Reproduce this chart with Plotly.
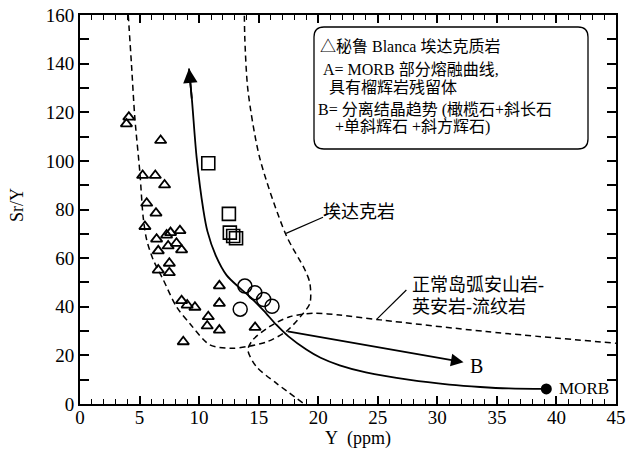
import plotly.graph_objects as go

# ---------------- data ----------------
tri_x = [4.1, 3.9, 6.77, 5.26, 6.32, 7.1, 5.6, 6.38, 5.45, 6.43, 7.27, 7.6, 8.39, 6.57, 7.4,
         8.1, 8.53, 6.57, 7.5, 7.5, 8.53, 9.0, 9.65, 8.67, 10.77, 10.68, 11.7, 11.7, 11.7, 14.7]
tri_y = [118.0, 115.2, 108.4, 94.0, 94.0, 90.1, 82.6, 78.5, 73.0, 67.8, 69.5, 70.5, 71.3, 63.0, 65.0,
         66.1, 63.4, 55.1, 57.9, 54.0, 42.5, 40.7, 39.8, 25.6, 35.9, 32.1, 48.6, 41.4, 30.4, 31.5]

sq_x = [10.77, 12.5, 12.58, 12.86, 13.1]
sq_y = [99.0, 78.2, 70.5, 69.1, 68.2]

circ_x = [13.84, 14.68, 15.42, 16.12, 13.45]
circ_y = [48.5, 45.8, 43.0, 40.2, 39.0]

morb_x = [39.15]
morb_y = [6.2]

# curve A: MORB partial melting (top -> MORB)
curveA_x = [9.15, 9.4, 9.8, 10.35, 10.7, 11.4, 12.3, 13.4, 14.4, 15.4, 16.5, 17.5, 19.0, 20.2,
            21.8, 24.0, 27.7, 31.0, 33.6, 36.0, 39.15]
curveA_y = [138.0, 125.0, 101.0, 80.0, 71.0, 61.0, 53.0, 47.8, 43.5, 38.5, 32.5, 27.8, 22.4, 19.0,
            15.9, 13.0, 9.9, 8.0, 7.0, 6.4, 6.2]

# trend B: fractional crystallisation
trendB_x = [17.3, 32.2]
trendB_y = [30.0, 17.2]

# adakite field boundary
adakite_x = [4.05, 4.33, 4.6, 5.03, 5.3, 5.6, 6.15, 7.0, 8.1, 9.2, 10.9, 12.6, 14.0, 15.7, 17.3,
             18.5, 19.3, 19.3, 18.9, 17.3, 15.1, 14.1, 13.84, 13.8]
adakite_y = [160.0, 139.0, 118.0, 95.0, 77.0, 67.5, 59.3, 51.0, 40.0, 33.2, 24.3, 22.9, 23.6, 25.6,
             29.8, 35.9, 41.4, 49.7, 55.0, 69.5, 101.0, 129.0, 150.0, 160.0]

# normal arc andesite-dacite-rhyolite field boundary
arc_x = [18.7, 16.5, 14.8, 14.1, 14.5, 15.9, 17.6, 19.6, 21.8, 25.2, 34.1, 45.0]
arc_y = [0.5, 8.5, 15.4, 22.2, 26.3, 31.8, 35.9, 37.3, 36.6, 34.6, 29.8, 25.0]

# leader lines of field labels
lead_adakite_x = [17.3, 20.4]
lead_adakite_y = [70.2, 76.8]
lead_arc_x = [24.9, 27.4]
lead_arc_y = [34.8, 46.9]

x_ticks = [0, 5, 10, 15, 20, 25, 30, 35, 40, 45]
y_ticks = [0, 20, 40, 60, 80, 100, 120, 140, 160]

legend_lines = [
    "△秘鲁 Blanca 埃达克质岩",
    "A= MORB 部分熔融曲线,",
    "具有榴辉岩残留体",
    "B= 分离结晶趋势 (橄榄石+斜长石",
    "+单斜辉石 +斜方辉石)",
]

# ---------------- layout helpers ----------------
W, H = 626, 454
L, R, T, B = 80, 10, 15, 50
PW, PH = W - L - R, H - T - B


def px(xp):
    return (xp - L) / PW


def py(yp):
    return (H - B - yp) / PH


SERIF = "Liberation Serif, Noto Sans CJK SC"
CJK = "Liberation Serif, Noto Sans CJK SC"

fig = go.Figure()

dash = "6px,4px"
fig.add_trace(go.Scatter(x=adakite_x, y=adakite_y, mode="lines",
                         line=dict(color="black", width=1.5, dash=dash, shape="spline", smoothing=0.8),
                         hoverinfo="skip"))
fig.add_trace(go.Scatter(x=arc_x, y=arc_y, mode="lines",
                         line=dict(color="black", width=1.5, dash=dash, shape="spline", smoothing=0.8),
                         hoverinfo="skip"))
fig.add_trace(go.Scatter(x=curveA_x, y=curveA_y, mode="lines",
                         line=dict(color="black", width=1.8, shape="spline", smoothing=0.9),
                         hoverinfo="skip"))
fig.add_trace(go.Scatter(x=lead_adakite_x, y=lead_adakite_y, mode="lines",
                         line=dict(color="black", width=1.2), hoverinfo="skip"))
fig.add_trace(go.Scatter(x=lead_arc_x, y=lead_arc_y, mode="lines",
                         line=dict(color="black", width=1.2), hoverinfo="skip"))

fig.add_trace(go.Scatter(x=tri_x, y=tri_y, mode="markers",
                         marker=dict(symbol="triangle-up-open", size=10, color="black",
                                     line=dict(width=1.8, color="black"))))
fig.add_trace(go.Scatter(x=sq_x, y=sq_y, mode="markers",
                         marker=dict(symbol="square-open", size=13, color="black",
                                     line=dict(width=1.6, color="black"))))
fig.add_trace(go.Scatter(x=circ_x, y=circ_y, mode="markers",
                         marker=dict(symbol="circle-open", size=14, color="black",
                                     line=dict(width=1.5, color="black"))))
fig.add_trace(go.Scatter(x=morb_x, y=morb_y, mode="markers",
                         marker=dict(symbol="circle", size=11, color="black")))

annotations = []
# arrow head of curve A
annotations.append(dict(x=curveA_x[0], y=curveA_y[0], ax=curveA_x[1], ay=curveA_y[1],
                        xref="x", yref="y", axref="x", ayref="y", text="", showarrow=True,
                        arrowhead=2, arrowsize=1.6, arrowwidth=1.8, arrowcolor="black", standoff=0))
# trend B arrow
annotations.append(dict(x=trendB_x[1], y=trendB_y[1], ax=trendB_x[0], ay=trendB_y[0],
                        xref="x", yref="y", axref="x", ayref="y", text="", showarrow=True,
                        arrowhead=2, arrowsize=1.4, arrowwidth=1.8, arrowcolor="black", standoff=0))


def label(text, xp, yp, size, xanchor="center", family=SERIF, angle=0):
    annotations.append(dict(x=px(xp), y=py(yp), xref="paper", yref="paper", text=text,
                            showarrow=False, xanchor=xanchor, yanchor="middle", textangle=angle,
                            font=dict(family=family, size=size, color="black")))


label("B", 477, 366, 20)
label("MORB", 557, 388, 17, xanchor="left")
label("埃达克岩", 321, 212, 18, xanchor="left", family=CJK)
label("正常岛弧安山岩-", 410, 285, 18, xanchor="left", family=CJK)
label("英安岩-流纹岩", 410, 307, 18, xanchor="left", family=CJK)

leg_pos = [(318, 46), (321, 70), (327, 87), (316, 110), (333, 127)]
for txt, (lx, ly) in zip(legend_lines, leg_pos):
    label(txt, lx, ly, 16, xanchor="left", family=CJK)

# axis titles
label("Sr/Y", 17, 205, 18, angle=-90)
label("Y\u00a0\u00a0(ppm)", 358, 438, 18)

# rounded legend box
x0, x1 = px(314), px(588)
y0, y1 = py(149), py(27)
rx, ry = 10 / PW, 10 / PH
path = (f"M {x0+rx},{y1} L {x1-rx},{y1} Q {x1},{y1} {x1},{y1-ry} L {x1},{y0+ry} "
        f"Q {x1},{y0} {x1-rx},{y0} L {x0+rx},{y0} Q {x0},{y0} {x0},{y0+ry} "
        f"L {x0},{y1-ry} Q {x0},{y1} {x0+rx},{y1} Z")

fig.update_layout(
    width=W, height=H, margin=dict(l=L, r=R, t=T, b=B, autoexpand=False),
    paper_bgcolor="white", plot_bgcolor="white", showlegend=False,
    annotations=annotations,
    shapes=[dict(type="path", path=path, xref="paper", yref="paper",
                 line=dict(color="black", width=1.3), fillcolor="rgba(0,0,0,0)")],
    xaxis=dict(range=[0, 45], tickvals=x_ticks, ticktext=[str(v) for v in x_ticks],
               ticks="inside", ticklen=8, tickwidth=1.5, tickcolor="black",
               minor=dict(dtick=1, ticks="inside", ticklen=5, tickwidth=1.3, tickcolor="black"),
               showline=True, linecolor="black", linewidth=2, mirror="ticks",
               showgrid=False, zeroline=False, ticklabelstandoff=-5,
               tickfont=dict(family=SERIF, size=19, color="black")),
    yaxis=dict(range=[0, 160], tickvals=y_ticks, ticktext=[str(v) for v in y_ticks],
               ticks="inside", ticklen=9, tickwidth=1.5, tickcolor="black",
               minor=dict(dtick=10, ticks="inside", ticklen=9, tickwidth=1.5, tickcolor="black"),
               showline=True, linecolor="black", linewidth=2, mirror="ticks",
               showgrid=False, zeroline=False,
               tickfont=dict(family=SERIF, size=19, color="black")),
)

fig.write_html("out.html", config={"displayModeBar": False},
               post_script="document.body.style.margin='0';document.body.style.overflow='hidden';")
